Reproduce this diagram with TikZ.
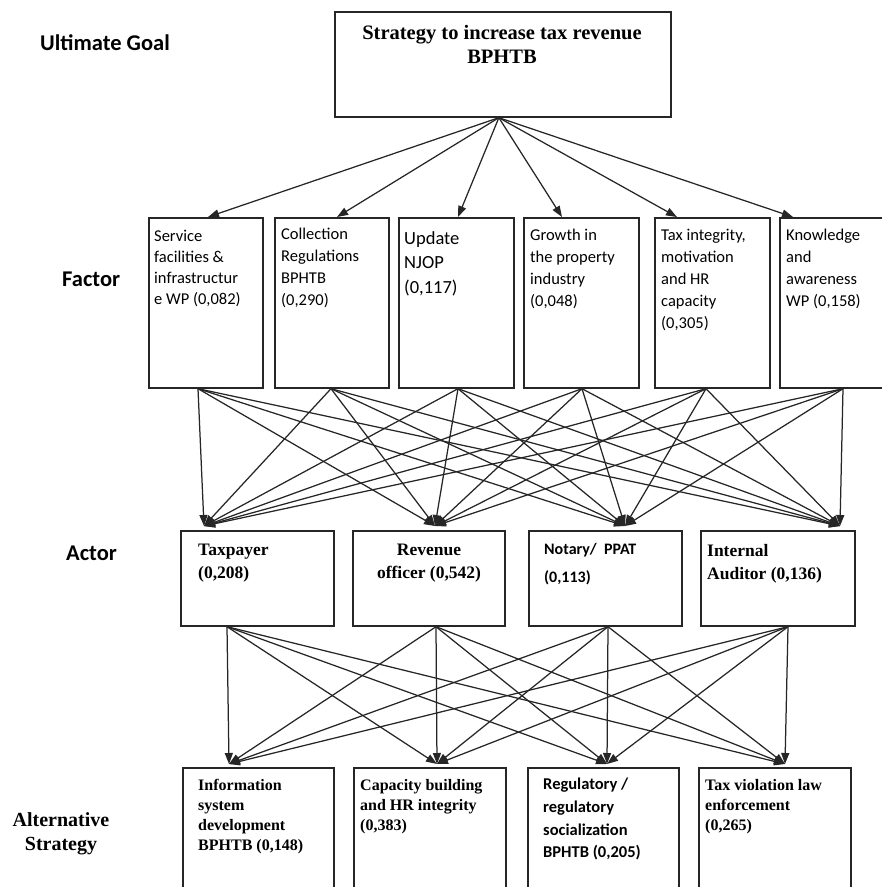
\documentclass[tikz,border=0pt]{standalone}
\usepackage{fontspec}
\setmainfont{Liberation Serif}
\newfontfamily\calib{Carlito}
\usetikzlibrary{arrows.meta,calc}
\begin{document}
\begin{tikzpicture}[x=1pt,y=-1pt,
  box/.style={draw=black!85, line width=1.7pt, inner sep=0pt, anchor=north west},
  conn/.style={draw=black!85, line width=1.25pt, -{Triangle[length=11pt,width=8pt]}},
  ftext/.style={anchor=north west, inner sep=0pt, align=left, font=\calib\fontsize{16.5}{22}\selectfont},
  stext/.style={anchor=north west, inner sep=0pt, align=left, font=\bfseries\fontsize{17.5}{23}\selectfont},
  btext/.style={anchor=north west, inner sep=0pt, align=left, font=\bfseries\fontsize{16}{20}\selectfont},
  label/.style={anchor=west, inner sep=0pt, font=\calib\bfseries\fontsize{22.5}{26}\selectfont},
]
\useasboundingbox (0,0) rectangle (882,887);
\clip (0,0) rectangle (882,887);

% level labels
\node[label] (lgoal) at (40,43) {Ultimate Goal};
\node[label] (lfactor) at (62,279) {Factor};
\node[label] (lactor) at (66,553) {Actor};
\node[inner sep=0pt, align=center, font=\bfseries\fontsize{20}{24}\selectfont] (lalt) at (61,834) {Alternative\\Strategy};

% goal
\node[box, minimum width=336pt, minimum height=105pt] (goal) at (334,11) {};
\node[anchor=north, inner sep=0pt, align=center, font=\bfseries\fontsize{20.5}{24}\selectfont] (goalt) at (502,25) {Strategy to increase tax revenue\\BPHTB};

% factors
\node[box, minimum width=114pt, minimum height=170pt] (f1) at (148,217) {};
\node[box, minimum width=114pt, minimum height=170pt] (f2) at (274,217) {};
\node[box, minimum width=115pt, minimum height=170pt] (f3) at (398,217) {};
\node[box, minimum width=115pt, minimum height=170pt] (f4) at (523,217) {};
\node[box, minimum width=115pt, minimum height=170pt] (f5) at (654,217) {};
\node[box, minimum width=116pt, minimum height=170pt] (f6) at (779,217) {};

\node[ftext, font=\calib\fontsize{16.5}{21}\selectfont] (f1t) at (154,230) {Service\\facilities \&\\infrastructur\\e WP (0,082)};
\node[ftext] (f2t) at (281,228) {Collection\\Regulations\\BPHTB\\(0,290)};
\node[ftext, font=\calib\fontsize{18.5}{24.5}\selectfont] (f3t) at (404,231) {Update\\NJOP\\(0,117)};
\node[ftext] (f4t) at (530,229) {Growth in\\the property\\industry\\(0,048)};
\node[ftext] (f5t) at (661,229) {Tax integrity,\\motivation\\and HR\\capacity\\(0,305)};
\node[ftext] (f6t) at (786,229) {Knowledge\\and\\awareness\\WP (0,158)};

% actors
\node[box, minimum width=153pt, minimum height=95pt] (a1) at (180,530) {};
\node[box, minimum width=152pt, minimum height=95pt] (a2) at (352,530) {};
\node[box, minimum width=153pt, minimum height=95pt] (a3) at (528,530) {};
\node[box, minimum width=154pt, minimum height=95pt] (a4) at (700,530) {};

\node[stext] (a1t) at (198,544) {Taxpayer\\(0,208)};
\node[stext, anchor=north, align=center] (a2t) at (429,544) {Revenue\\officer (0,542)};
\node[anchor=north west, inner sep=0pt, align=left, font=\calib\bfseries\fontsize{16}{28}\selectfont] (a3t) at (544,543) {Notary/~~PPAT\\(0,113)};
\node[stext] (a4t) at (707,544) {Internal\\Auditor (0,136)};

% strategies
\node[box, minimum width=151pt, minimum height=140pt] (s1) at (182,767) {};
\node[box, minimum width=152pt, minimum height=140pt] (s2) at (353,767) {};
\node[box, minimum width=151pt, minimum height=140pt] (s3) at (527,767) {};
\node[box, minimum width=152pt, minimum height=140pt] (s4) at (698,767) {};

\node[btext] (s1t) at (198,779) {Information\\system\\development\\BPHTB (0,148)};
\node[btext] (s2t) at (360,779) {Capacity building\\and HR integrity\\(0,383)};
\node[anchor=north west, inner sep=0pt, align=left, font=\calib\bfseries\fontsize{16.5}{22.7}\selectfont] (s3t) at (543,778) {Regulatory /\\regulatory\\socialization\\BPHTB (0,205)};
\node[btext] (s4t) at (705,779) {Tax violation law\\enforcement\\(0,265)};

% ports
\coordinate (go) at ($(goal.south)+(-4,0)$);
\coordinate (f1i) at ($(f1.north west)+(60,0)$);
\coordinate (f2i) at ($(f2.north west)+(63,0)$);
\coordinate (f3i) at ($(f3.north west)+(60,0)$);
\coordinate (f4i) at ($(f4.north west)+(39,0)$);
\coordinate (f5i) at ($(f5.north west)+(23,0)$);
\coordinate (f6i) at ($(f6.north west)+(14,0)$);

\coordinate (f1o) at ($(f1.south west)+(50,0)$);
\coordinate (f2o) at ($(f2.south west)+(57,0)$);
\coordinate (f3o) at ($(f3.south west)+(60,0)$);
\coordinate (f4o) at ($(f4.south west)+(59,0)$);
\coordinate (f5o) at ($(f5.south west)+(52,0)$);
\coordinate (f6o) at ($(f6.south west)+(64,0)$);

\coordinate (a1i) at ($(a1.north west)+(24,-4)$);
\coordinate (a2i) at ($(a2.north west)+(83,-4)$);
\coordinate (a3i) at ($(a3.north west)+(97,-4)$);
\coordinate (a4i) at ($(a4.north west)+(140,-4)$);

\coordinate (a1o) at ($(a1.south west)+(47,0)$);
\coordinate (a2o) at ($(a2.south west)+(84,0)$);
\coordinate (a3o) at ($(a3.south west)+(80,0)$);
\coordinate (a4o) at ($(a4.south west)+(88,0)$);

\coordinate (s1i) at ($(s1.north west)+(47,-3)$);
\coordinate (s2i) at ($(s2.north west)+(84,-3)$);
\coordinate (s3i) at ($(s3.north west)+(80,-3)$);
\coordinate (s4i) at ($(s4.north west)+(87,-3)$);

% connectors
\foreach \t in {f1i,f2i,f3i,f4i,f5i,f6i} \draw[conn] (go) -- (\t);
\foreach \s in {f1o,f2o,f3o,f4o,f5o,f6o}
  \foreach \t in {a1i,a2i,a3i,a4i} \draw[conn] (\s) -- (\t);
\foreach \s in {a1o,a2o,a3o,a4o}
  \foreach \t in {s1i,s2i,s3i,s4i} \draw[conn] (\s) -- (\t);
\end{tikzpicture}
\end{document}
